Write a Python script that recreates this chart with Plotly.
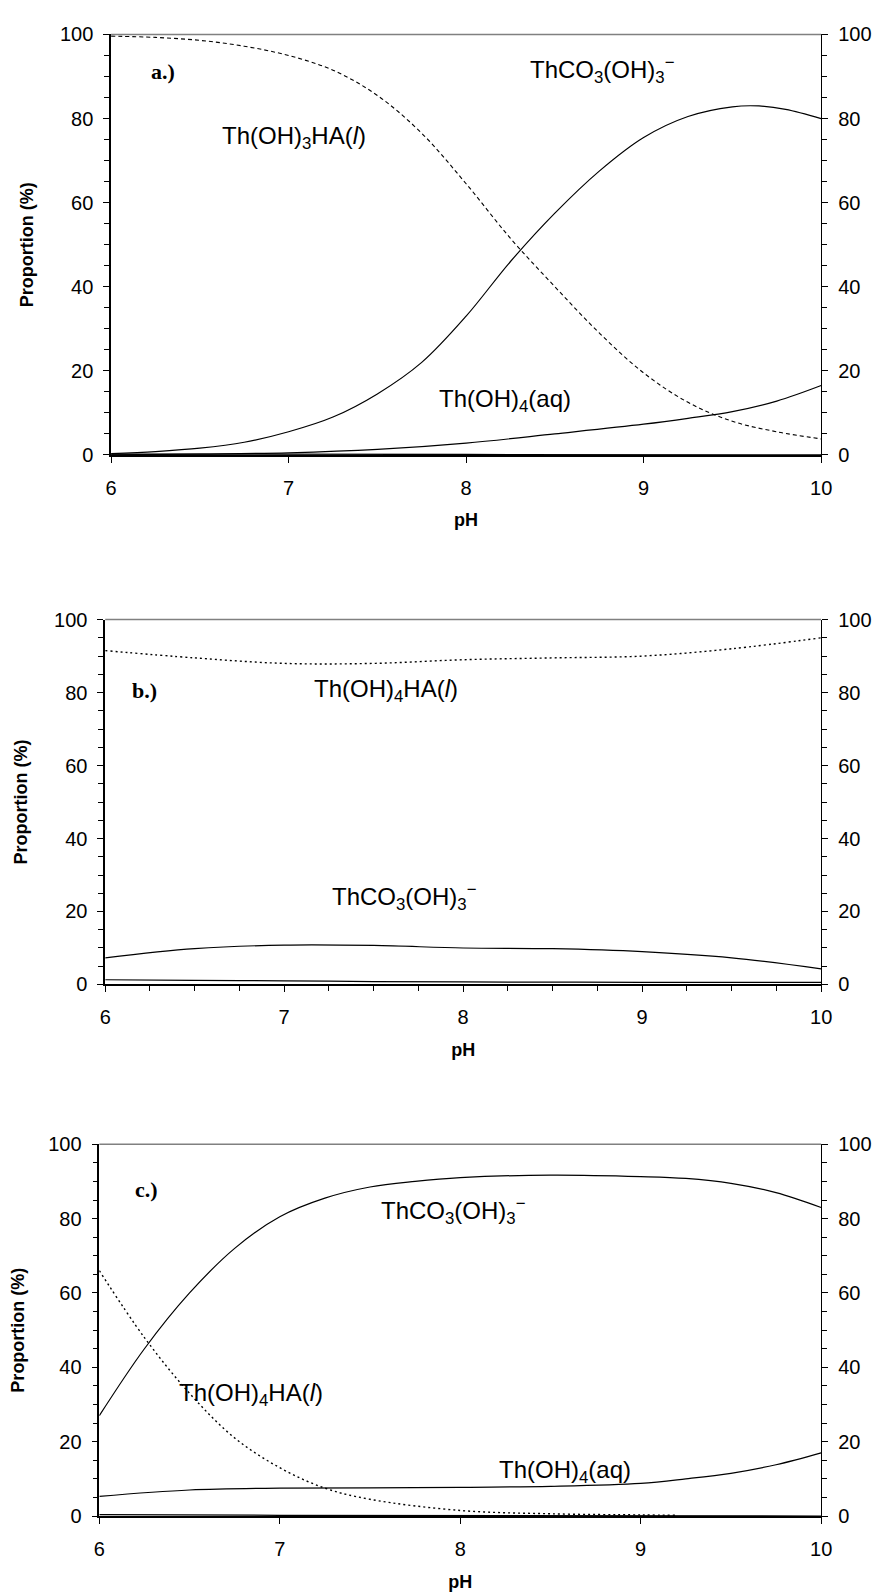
import plotly.graph_objects as go

# ---------------- data ----------------
# Panel a
a_ph_carb = [6.0, 6.25, 6.5, 6.75, 7.0, 7.25, 7.5, 7.75, 8.0, 8.25, 8.5, 8.75, 9.0, 9.25, 9.5, 9.65, 9.8, 10.0]
a_carb = [0.3, 0.8, 1.6, 3.0, 5.5, 9.0, 14.5, 22.0, 33.0, 46.0, 57.5, 67.5, 75.5, 80.5, 82.8, 83.0, 82.2, 80.0]
a_ph_ha = [6.0, 6.25, 6.5, 6.75, 7.0, 7.25, 7.5, 7.75, 8.0, 8.25, 8.5, 8.75, 9.0, 9.25, 9.5, 9.75, 10.0]
a_ha = [99.6, 99.3, 98.6, 97.2, 95.0, 91.5, 85.5, 76.5, 64.5, 51.5, 40.0, 29.0, 19.5, 12.5, 8.0, 5.5, 3.8]
a_ph_aq = [6.0, 6.5, 7.0, 7.5, 8.0, 8.5, 9.0, 9.25, 9.5, 9.75, 10.0]
a_aq = [0.0, 0.2, 0.5, 1.3, 2.8, 5.0, 7.3, 8.7, 10.3, 12.8, 16.5]
a_ph_zero = [6.0, 8.0, 10.0]
a_zero = [0.2, 0.1, 0.0]

# Panel b
b_ph = [6.0, 6.5, 7.0, 7.5, 8.0, 8.5, 9.0, 9.5, 10.0]
b_ha = [91.5, 89.5, 88.0, 88.0, 89.0, 89.5, 90.0, 92.0, 95.0]
b_carb = [7.3, 9.8, 10.8, 10.7, 10.0, 9.8, 9.0, 7.3, 4.3]
b_aq = [1.3, 1.1, 1.0, 0.8, 0.7, 0.65, 0.6, 0.6, 0.6]

# Panel c
c_ph_carb = [6.0, 6.25, 6.5, 6.75, 7.0, 7.25, 7.5, 7.75, 8.0, 8.5, 9.0, 9.25, 9.5, 9.75, 10.0]
c_carb = [27.0, 45.0, 60.0, 72.0, 80.5, 85.5, 88.5, 90.0, 91.0, 91.7, 91.3, 90.8, 89.5, 87.0, 83.0]
c_ph_ha = [6.0, 6.25, 6.5, 6.75, 7.0, 7.25, 7.5, 8.0, 8.5, 9.0, 9.2]
c_ha = [66.0, 48.0, 33.0, 21.0, 13.0, 7.5, 4.5, 1.5, 0.6, 0.3, 0.2]
c_ph_aq = [6.0, 6.5, 7.0, 7.5, 8.0, 8.5, 9.0, 9.25, 9.5, 9.75, 10.0]
c_aq = [5.3, 7.0, 7.5, 7.6, 7.7, 8.0, 8.8, 10.0, 11.5, 13.8, 17.0]
c_ph_zero = [6.0, 7.0, 10.0]
c_zero = [0.4, 0.2, 0.0]

y_ticks = [0, 20, 40, 60, 80, 100]
x_ticks = [6, 7, 8, 9, 10]

# ---------------- figure ----------------
W, H = 882, 1593
SANS = "Liberation Sans, Arial, sans-serif"
SERIF = "Liberation Serif, Times New Roman, serif"

fig = go.Figure()

def px_x(p):
    return p / W

def px_y(p):
    return (H - p) / H

panels = [
    # (x-left px, x-right px, top px, bottom px, x minor)
    (99, 823, 15.7, 442, False),
    (93, 823, 609, 979, True),
    (87, 823, 1141, 1518, False),
]

solid = dict(color="black", width=1.2)
dashA = dict(color="black", width=1.1, dash="4px,3px")
dotBC = dict(color="black", width=1.4, dash="2px,3px")

series = [
    [(a_ph_carb, a_carb, solid), (a_ph_ha, a_ha, dashA), (a_ph_aq, a_aq, solid), (a_ph_zero, a_zero, solid)],
    [(b_ph, b_ha, dotBC), (b_ph, b_carb, solid), (b_ph, b_aq, solid)],
    [(c_ph_carb, c_carb, solid), (c_ph_ha, c_ha, dotBC), (c_ph_aq, c_aq, solid), (c_ph_zero, c_zero, solid)],
]

tickfont = dict(family=SANS, size=20, color="black")
titlefont = dict(family=SANS, size=18, color="black")

for i, (xl, xr, top, bot, xminor) in enumerate(panels):
    n = i + 1
    xname = "x" if n == 1 else f"x{n}"
    yl = 2 * n - 1
    yr = 2 * n
    ylname = "y" if yl == 1 else f"y{yl}"
    yrname = f"y{yr}"
    for xs, ys, ln in series[i]:
        fig.add_trace(go.Scatter(x=xs, y=ys, mode="lines", line=dict(shape="spline", smoothing=1.0, **ln),
                                 xaxis=xname, yaxis=ylname, showlegend=False, hoverinfo="skip"))
    fig.add_trace(go.Scatter(x=[None], y=[None], xaxis=xname, yaxis=yrname, showlegend=False))

    xkey = "xaxis" if n == 1 else f"xaxis{n}"
    ylkey = "yaxis" if yl == 1 else f"yaxis{yl}"
    yrkey = f"yaxis{yr}"
    xax = dict(domain=[px_x(xl), px_x(xr)], anchor=ylname, range=[6, 10],
               tickmode="array", tickvals=x_ticks, ticktext=[str(v) for v in x_ticks],
               ticks="outside", ticklen=6, tickwidth=1, tickcolor="black",
               showline=True, linecolor="black", linewidth=2, showgrid=False, zeroline=False,
               tickfont=tickfont, ticklabelstandoff=8,
               title=dict(text="<b>pH</b>", font=titlefont, standoff=16))
    if xminor:
        xax["minor"] = dict(dtick=0.25, ticks="outside", ticklen=5, tickcolor="black", tickwidth=1)
    fig.layout[xkey] = xax
    common_y = dict(domain=[px_y(bot), px_y(top)], range=[0, 100], anchor=xname,
                    tickmode="array", tickvals=y_ticks, ticktext=[str(v) for v in y_ticks],
                    ticks="outside", ticklen=6, tickwidth=1, tickcolor="black",
                    minor=dict(dtick=5, ticks="outside", ticklen=5, tickcolor="black", tickwidth=1),
                    showline=True, linecolor="black", linewidth=1.5, showgrid=False, zeroline=False,
                    tickfont=tickfont, ticklabelstandoff=6)
    left = dict(common_y)
    left["side"] = "left"
    left["title"] = dict(text="<b>Proportion (%)</b>", font=titlefont, standoff=22)
    fig.layout[ylkey] = left
    right = dict(common_y)
    right["side"] = "right"
    right["overlaying"] = ylname
    right["linewidth"] = 1.2
    fig.layout[yrkey] = right
    # gray top border
    fig.add_shape(type="line", xref="paper", yref="paper",
                  x0=px_x(xl), x1=px_x(xr), y0=px_y(top), y1=px_y(top),
                  line=dict(color="#808080", width=1.5))

ann_font = dict(family=SANS, size=24, color="black")
lab_font = dict(family=SERIF, size=22, color="black")

def ann(text, x, y, n, font=ann_font):
    xname = "x" if n == 1 else f"x{n}"
    yname = "y" if n == 1 else f"y{2*n-1}"
    fig.add_annotation(text=text, x=x, y=y, xref=xname, yref=yname, showarrow=False,
                       font=font, xanchor="center", yanchor="middle")

carb = "ThCO<sub>3</sub>(OH)<sub>3</sub><sup>−</sup>"
# Panel a
ann("<b>a.)</b>", 6.29, 91.3, 1, lab_font)
ann(carb, 8.77, 91.5, 1)
ann("Th(OH)<sub>3</sub>HA(<i>l</i>)", 7.03, 75.5, 1)
ann("Th(OH)<sub>4</sub>(aq)", 8.22, 13.0, 1)
# Panel b
ann("<b>b.)</b>", 6.22, 80.5, 2, lab_font)
ann("Th(OH)<sub>4</sub>HA(<i>l</i>)", 7.57, 80.5, 2)
ann(carb, 7.67, 24.0, 2)
# Panel c
ann("<b>c.)</b>", 6.26, 87.8, 3, lab_font)
ann(carb, 7.96, 82.0, 3)
ann("Th(OH)<sub>4</sub>HA(<i>l</i>)", 6.84, 32.6, 3)
ann("Th(OH)<sub>4</sub>(aq)", 8.58, 12.0, 3)

fig.update_layout(width=W, height=H, margin=dict(l=0, r=0, t=0, b=0),
                  paper_bgcolor="white", plot_bgcolor="white",
                  font=dict(family=SANS, color="black"))

fig.write_html("out.html")
